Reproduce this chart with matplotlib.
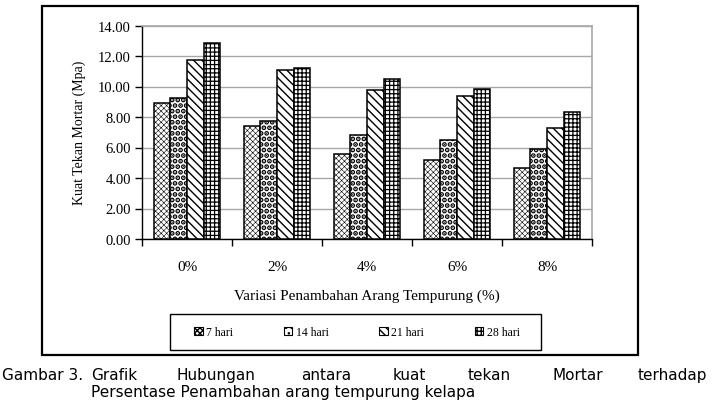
import matplotlib.pyplot as plt
from matplotlib.patches import Patch, Rectangle
import numpy as np

plt.rcParams['font.family'] = ['Liberation Serif', 'DejaVu Serif']

categories = ['0%', '2%', '4%', '6%', '8%']
series = ['7 hari', '14 hari', '21 hari', '28 hari']
h7 = [8.90, 7.40, 5.58, 5.17, 4.63]
h14 = [9.23, 7.76, 6.81, 6.52, 5.93]
h21 = [11.75, 11.09, 9.79, 9.36, 7.30]
h28 = [12.86, 11.20, 10.50, 9.84, 8.35]
yticks = [0, 2, 4, 6, 8, 10, 12, 14]

hatches = ['xxxxxx', '...', '\\\\\\\\', '++++']
hatch_lw = [0.4, 2.5, 1.0, 0.9]

W, H = 716, 402
fig = plt.figure(figsize=(W / 100, H / 100), dpi=100)
ax = fig.add_axes([142 / W, 1 - 240 / H, (592 - 142) / W, (240 - 26.5) / H])

x = np.arange(len(categories))
w = 0.186
for j, vals in enumerate([h7, h14, h21, h28]):
    bars = ax.bar(x + (j - 1.5) * w, vals, w, color='white', edgecolor='black',
                  linewidth=1.1, hatch=hatches[j], zorder=3)
    for b in bars:
        if hasattr(b, 'set_hatch_linewidth'):
            b.set_hatch_linewidth(hatch_lw[j])

ax.set_xlim(-0.5, 4.5)
ax.set_ylim(0, 14)
ax.set_yticks(yticks)
ax.set_yticklabels(['%.2f' % v for v in yticks], fontsize=10.5)
ax.yaxis.grid(True, color='#a8a8a8', linewidth=1.0, zorder=0)
ax.set_xticks(np.arange(-0.5, 5, 1))
ax.set_xticklabels([])
ax.set_xticks(x, minor=True)
ax.set_xticklabels(categories, minor=True, fontsize=11)
ax.tick_params(axis='x', which='minor', length=0, pad=15)
ax.tick_params(axis='x', which='major', length=5, width=1, direction='out')
ax.tick_params(axis='y', length=5, width=1, direction='out', pad=3)
for s in ['top', 'right']:
    ax.spines[s].set_color('#a8a8a8')
    ax.spines[s].set_linewidth(1.2)
for s in ['left', 'bottom']:
    ax.spines[s].set_color('black')
    ax.spines[s].set_linewidth(1.0)

ax.set_ylabel('Kuat Tekan Mortar (Mpa)', fontsize=10, labelpad=9)
ax.set_xlabel('Variasi Penambahan Arang Tempurung (%)', fontsize=11, labelpad=11)

handles = [Patch(facecolor='white', edgecolor='black', hatch=hatches[j], linewidth=0.8)
           for j in range(4)]
leg = fig.legend(handles, series, ncols=4, loc='center',
                 bbox_to_anchor=(357 / W, 1 - 333 / H),
                 fontsize=8.5, handlelength=0.7, handleheight=0.7, handletextpad=0.3,
                 columnspacing=4.3, borderpad=0.5, frameon=False)

# legend box and outer frame
fig.patches.append(Rectangle((170 / W, 1 - 351 / H), (541 - 170) / W, 36 / H,
                             transform=fig.transFigure, fill=False,
                             edgecolor='black', linewidth=1.0))
fig.patches.append(Rectangle((42 / W, 1 - 356 / H), (638 - 42) / W, (356 - 7) / H,
                             transform=fig.transFigure, fill=False,
                             edgecolor='black', linewidth=1.6))

caption1 = ['Gambar 3.', 'Grafik', 'Hubungan', 'antara', 'kuat', 'tekan', 'Mortar', 'terhadap']
cap_x = [2, 91, 176, 301, 393, 468, 552, 638]
for word, px in zip(caption1, cap_x):
    fig.text(px / W, 1 - 380 / H, word, fontsize=11, family='DejaVu Sans',
             va='baseline', ha='left')
fig.text(91 / W, 1 - 397 / H, 'Persentase Penambahan arang tempurung kelapa',
         fontsize=11, family='DejaVu Sans', va='baseline', ha='left')

fig.savefig('out.png', dpi=100)
